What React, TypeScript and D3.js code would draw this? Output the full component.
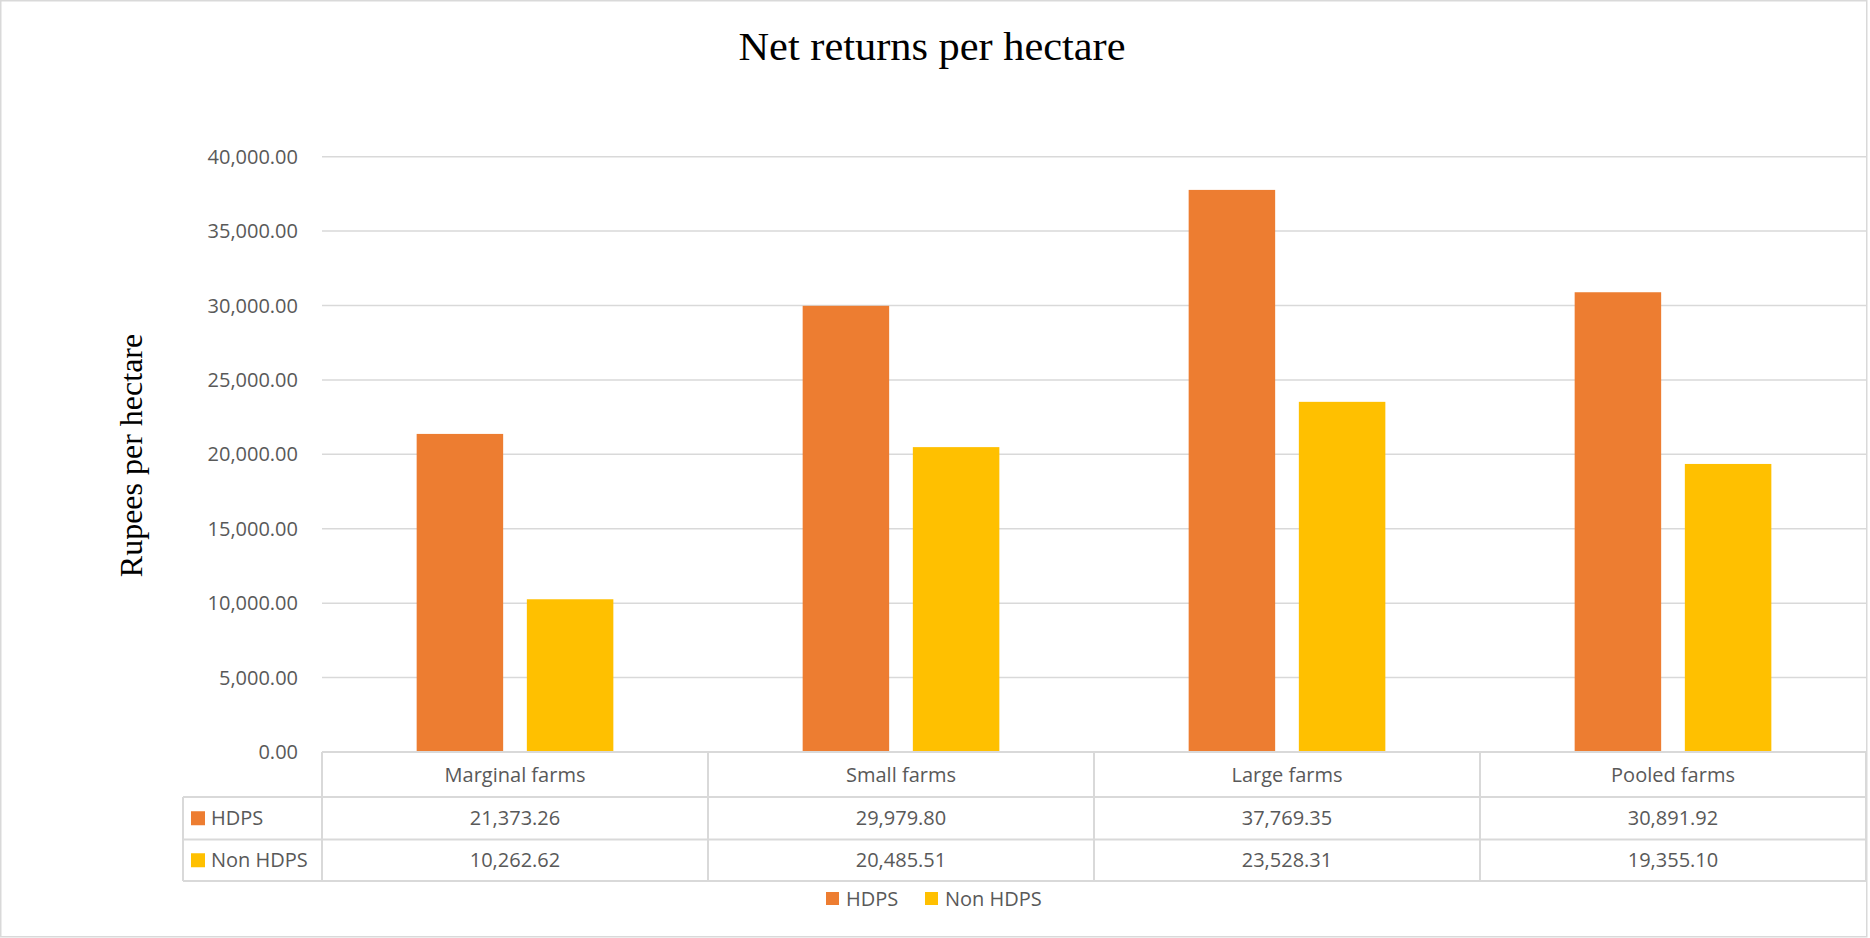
import React from "react";
import * as d3 from "d3";

const categories = ["Marginal farms", "Small farms", "Large farms", "Pooled farms"];
const seriesNames = ["HDPS", "Non HDPS"];
const hdpsValues = [21373.26, 29979.8, 37769.35, 30891.92];
const nonHdpsValues = [10262.62, 20485.51, 23528.31, 19355.1];
const yTicks = [0, 5000, 10000, 15000, 20000, 25000, 30000, 35000, 40000];
const colors = ["#ED7D31", "#FFC000"];

const W = 1870;
const H = 938;
const plotLeft = 322;
const plotRight = 1866;
const yZero = 752;
const yTop = 156.7;
const rowTops = [752, 797, 839.5, 881];
const tableLeft = 183;
const grid = "#D9D9D9";
const txt = "#595959";
const sans = "'Open Sans', 'Noto Sans', sans-serif";
const serif = "'Liberation Serif', 'Times New Roman', serif";

export default function App() {
  React.useEffect(() => {
    document.body.style.margin = "0";
  }, []);
  const series = [hdpsValues, nonHdpsValues];
  const y = d3.scaleLinear().domain([0, 40000]).range([yZero, yTop]);
  const x0 = d3.scaleBand<string>().domain(categories).range([plotLeft, plotRight]).padding(0);
  const x1 = d3
    .scaleBand<string>()
    .domain(seriesNames)
    .range([0, x0.bandwidth()])
    .paddingInner(0.215)
    .paddingOuter(0.859);
  const fmt = d3.format(",.2f");
  const colEdges = [plotLeft, ...categories.map((c) => (x0(c) as number) + x0.bandwidth())];

  return (
    <svg width={W} height={H} style={{ position: "absolute", left: 0, top: 0, display: "block" }}>
      <rect x={0} y={0} width={W} height={H} fill="#fff" />
      <rect x={0.75} y={0.75} width={1866} height={936} fill="none" stroke={grid} strokeWidth={1.5} />
      <text
        x={932}
        y={60}
        textAnchor="middle"
        fontFamily={serif}
        fontSize={40}
        fill="#000"
        textLength={387}
        lengthAdjust="spacingAndGlyphs"
      >
        Net returns per hectare
      </text>
      <text
        transform={`translate(142,455.5) rotate(-90)`}
        textAnchor="middle"
        fontFamily={serif}
        fontSize={32}
        fill="#000"
      >
        Rupees per hectare
      </text>
      {yTicks.map((t) => (
        <g key={t}>
          {t > 0 && (
            <line x1={plotLeft} x2={plotRight} y1={y(t)} y2={y(t)} stroke={grid} strokeWidth={1.5} />
          )}
          <text
            x={298}
            y={y(t)}
            dy="0.35em"
            textAnchor="end"
            fontFamily={sans}
            fontSize={20}
            fill={txt}
          >
            {fmt(t)}
          </text>
        </g>
      ))}
      {categories.map((c, i) =>
        seriesNames.map((s, j) => (
          <rect
            key={c + s}
            x={(x0(c) as number) + (x1(s) as number)}
            y={y(series[j][i])}
            width={x1.bandwidth()}
            height={yZero - y(series[j][i])}
            fill={colors[j]}
          />
        ))
      )}
      {/* data table */}
      <g stroke={grid} strokeWidth={2} fill="none">
        <line x1={plotLeft} x2={plotRight} y1={rowTops[0]} y2={rowTops[0]} />
        <line x1={tableLeft} x2={plotRight} y1={rowTops[1]} y2={rowTops[1]} />
        <line x1={tableLeft} x2={plotRight} y1={rowTops[2]} y2={rowTops[2]} />
        <line x1={tableLeft} x2={plotRight} y1={rowTops[3]} y2={rowTops[3]} />
        <line x1={tableLeft} x2={tableLeft} y1={rowTops[1]} y2={rowTops[3]} />
        {colEdges.map((e, k) => (
          <line key={k} x1={e} x2={e} y1={rowTops[0]} y2={rowTops[3]} />
        ))}
      </g>
      {categories.map((c) => (
        <text
          key={c}
          x={(x0(c) as number) + x0.bandwidth() / 2}
          y={(rowTops[0] + rowTops[1]) / 2}
          dy="0.35em"
          textAnchor="middle"
          fontFamily={sans}
          fontSize={20}
          fill={txt}
        >
          {c}
        </text>
      ))}
      {seriesNames.map((s, j) => {
        const cy = (rowTops[j + 1] + rowTops[j + 2]) / 2;
        return (
          <g key={s}>
            <rect x={191} y={cy - 7} width={14} height={14} fill={colors[j]} />
            <text x={211} y={cy} dy="0.35em" fontFamily={sans} fontSize={20} fill={txt}>
              {s}
            </text>
            {categories.map((c, i) => (
              <text
                key={c}
                x={(x0(c) as number) + x0.bandwidth() / 2}
                y={cy}
                dy="0.35em"
                textAnchor="middle"
                fontFamily={sans}
                fontSize={20}
                fill={txt}
              >
                {fmt(series[j][i])}
              </text>
            ))}
          </g>
        );
      })}
      {/* legend */}
      {seriesNames.map((s, j) => {
        const lx = [826, 925][j];
        return (
          <g key={s}>
            <rect x={lx} y={892} width={13} height={13} fill={colors[j]} />
            <text x={lx + 20} y={898.5} dy="0.35em" fontFamily={sans} fontSize={20} fill={txt}>
              {s}
            </text>
          </g>
        );
      })}
    </svg>
  );
}
